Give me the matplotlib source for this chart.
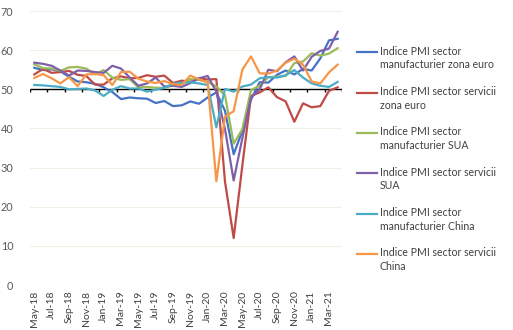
import matplotlib.pyplot as plt
import numpy as np
import pandas as pd
from matplotlib.lines import Line2D

plt.rcParams['font.family'] = ['Lato', 'DejaVu Sans']

months = pd.date_range('2018-05-01', periods=36, freq='MS').strftime('%b-%y').tolist()

# PMI indices, May 2018 - Apr 2021
pmi_euro_manuf = [55.5, 54.9, 55.1, 54.6, 53.2, 52.0, 51.8, 51.4,
                  50.5, 49.3, 47.5, 47.9, 47.7, 47.6, 46.5, 47.0, 45.7, 45.9, 46.9, 46.3,
                  47.9, 49.2, 44.5, 33.4, 39.4, 47.4, 51.8, 51.7, 53.7, 54.8, 53.8, 55.2,
                  54.8, 57.9, 62.5, 62.9]
pmi_euro_serv = [53.8, 55.2, 54.2, 54.4, 54.7, 53.7, 53.4, 51.2,
                 51.2, 52.8, 53.3, 52.8, 52.9, 53.6, 53.2, 53.5, 51.6, 52.2, 51.9, 52.8,
                 52.5, 52.6, 26.4, 12.0, 30.5, 48.3, 49.2, 50.5, 48.0, 46.9, 41.7, 46.4,
                 45.4, 45.7, 49.6, 50.5]
pmi_us_manuf = [56.4, 55.4, 55.3, 54.7, 55.6, 55.7, 55.3, 53.8,
                54.9, 53.0, 52.4, 52.6, 50.5, 50.6, 50.4, 50.3, 51.1, 51.3, 52.6, 52.4,
                51.9, 50.7, 48.5, 36.1, 39.8, 49.8, 50.9, 53.1, 53.2, 53.4, 56.7, 57.1,
                59.2, 58.6, 59.1, 60.5]
pmi_us_serv = [56.8, 56.5, 56.0, 54.8, 53.5, 54.8, 54.7, 54.4,
               54.2, 56.0, 55.3, 53.0, 50.9, 51.5, 53.0, 50.7, 50.9, 50.6, 51.6, 52.8,
               53.4, 49.4, 39.8, 26.7, 37.5, 47.9, 50.0, 55.0, 54.6, 56.9, 58.4, 54.8,
               58.3, 59.8, 60.4, 64.7]
pmi_china_manuf = [51.1, 51.0, 50.8, 50.6, 50.0, 50.1, 50.2, 49.7,
                   48.3, 49.9, 50.8, 50.2, 50.2, 49.4, 49.9, 50.4, 51.4, 51.7, 51.8, 51.5,
                   51.1, 40.3, 50.1, 49.4, 50.7, 51.2, 52.8, 53.1, 53.0, 53.6, 54.9, 53.0,
                   51.5, 50.9, 50.6, 51.9]
pmi_china_serv = [52.9, 53.9, 52.8, 51.5, 53.1, 50.8, 53.8, 53.9,
                  53.6, 51.1, 54.4, 54.5, 52.7, 52.0, 51.6, 52.1, 51.3, 51.1, 53.5, 52.5,
                  51.8, 26.5, 43.0, 44.4, 55.0, 58.4, 54.1, 54.0, 54.8, 56.8, 57.8, 56.3,
                  52.0, 51.5, 54.3, 56.3]

series_names = ['Indice PMI sector\nmanufacturier zona euro',
                'Indice PMI sector servicii\nzona euro',
                'Indice PMI sector\nmanufacturier SUA',
                'Indice PMI sector servicii\nSUA',
                'Indice PMI sector\nmanufacturier China',
                'Indice PMI sector servicii\nChina']
series_values = [pmi_euro_manuf, pmi_euro_serv, pmi_us_manuf,
                 pmi_us_serv, pmi_china_manuf, pmi_china_serv]
colors = ['#4472C4', '#BE4B48', '#9BBB59', '#7F60A8', '#4BACC6', '#F79646']

fig = plt.figure(figsize=(5.13, 3.30), dpi=100)
ax = fig.add_axes([30 / 513, 45 / 330, 312 / 513, 274 / 330])

x = np.arange(len(months))
for vals, col in zip(series_values, colors):
    ax.plot(x, vals, color=col, lw=1.6, zorder=3, solid_joinstyle='round')

ax.set_xlim(-0.5, len(months) - 0.5)
ax.set_ylim(0, 70)
ax.set_yticks(range(0, 71, 10))
for yv in range(0, 71, 10):
    ax.axhline(yv, color='#F0EFE8', lw=0.8, zorder=0)

# horizontal axis crosses at 50
ax.hlines(50, -0.5, len(months) - 0.5, color='black', lw=1.0, zorder=2)
ax.vlines(np.arange(-0.5, len(months), 2), 49.2, 50, color='black', lw=1.0, zorder=2)

ax.set_xticks(x[::2])
ax.set_xticklabels(months[::2], rotation=90, fontsize=7.5, color='#404040')
ax.tick_params(axis='x', length=0, pad=4)
ax.tick_params(axis='y', length=0, pad=12, labelsize=7.8, labelcolor='#595959')
for s in ax.spines.values():
    s.set_visible(False)

# legend on the right, line level with the first text row
for i, (name, col) in enumerate(zip(series_names, colors)):
    y = 1 - (52.3 + i * 40.3) / 330
    fig.add_artist(Line2D([357 / 513, 377 / 513], [y, y], color=col, lw=1.6))
    fig.text(380 / 513, y + 6.5 / 330, name, fontsize=7.6, color='#404040',
             va='top', ha='left', linespacing=1.3)

fig.savefig('out.png', dpi=100)
